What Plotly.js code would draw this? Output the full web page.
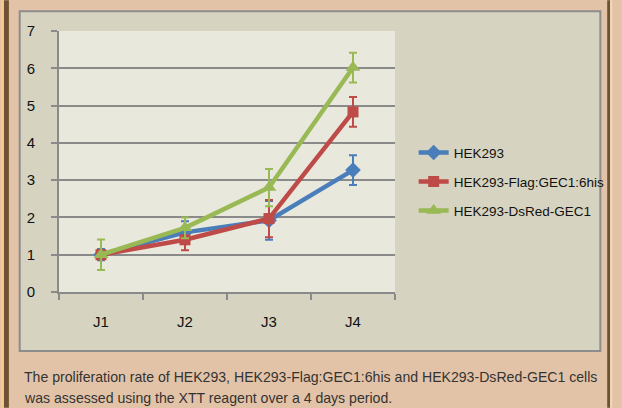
<!DOCTYPE html>
<html><head><meta charset="utf-8">
<script src="https://cdn.plot.ly/plotly-3.0.1.min.js"></script>
<style>html,body{margin:0;padding:0;background:#e3c3a7}#chart{width:622px;height:408px}</style>
</head><body><div id="chart"></div>
<script>
const days = ['J1', 'J2', 'J3', 'J4'];
const hek293 = [1.0, 1.6, 1.92, 3.27];
const hek293Err = [0.15, 0.3, 0.52, 0.4];
const flag = [1.0, 1.4, 1.97, 4.83];
const flagErr = [0.12, 0.28, 0.5, 0.4];
const dsred = [1.0, 1.72, 2.8, 6.02];
const dsredErr = [0.41, 0.28, 0.5, 0.4];
const names = ['HEK293', 'HEK293-Flag:GEC1:6his', 'HEK293-DsRed-GEC1'];
const captionLines = [
  'The proliferation rate of HEK293, HEK293-Flag:GEC1:6his and HEK293-DsRed-GEC1 cells',
  'was assessed using the XTT reagent over a 4 days period.'
];
const yTicks = [0, 1, 2, 3, 4, 5, 6, 7];

const colors = ['#4a7ebb', '#be4b48', '#98b954'];
const symbols = ['diamond', 'square', 'triangle-up'];
const sizes = [12, 11, 13];
const series = [hek293, flag, dsred];
const errs = [hek293Err, flagErr, dsredErr];

const L = 59, R = 401, T = 30.7, B = 292;
const fx = p => (p - L) / (R - L);
const fy = p => (B - p) / (B - T);
const narrow = 'Liberation Sans Narrow, Arial Narrow, Liberation Sans, sans-serif';

const traces = series.map((s, i) => ({
  type: 'scatter', mode: 'lines+markers', x: days, y: s, name: names[i],
  legendgroup: 'g' + i,
  line: {color: colors[i], width: 4.5},
  marker: {color: colors[i], symbol: symbols[i], size: sizes[i]},
  error_y: {type: 'data', array: errs[i], visible: true, color: colors[i], thickness: 2, width: 4}
}));

function rect(x0, y0, x1, y1, fill, line) {
  return {type: 'rect', xref: 'paper', yref: 'paper', layer: 'below',
    x0: fx(x0), x1: fx(x1), y0: fy(y0), y1: fy(y1), fillcolor: fill,
    line: line || {width: 0}};
}

const layout = {
  width: 622, height: 408,
  margin: {l: L, r: 622 - R, t: T, b: 408 - B, pad: 0},
  paper_bgcolor: '#e3c3a7', plot_bgcolor: 'rgba(0,0,0,0)',
  showlegend: true,
  legend: {x: fx(420), y: fy(137), xanchor: 'left', yanchor: 'top',
    bgcolor: 'rgba(0,0,0,0)', font: {family: narrow, size: 13.5, color: '#111'},
    traceorder: 'grouped', tracegroupgap: 8.5, itemwidth: 30},
  xaxis: {type: 'category', range: [-0.5, 3.5], tickson: 'boundaries',
    ticks: 'outside', ticklen: 6, tickwidth: 2, tickcolor: '#8a8a8a',
    showline: true, linecolor: '#8a8a8a', linewidth: 2, showgrid: false,
    ticklabelstandoff: 15, tickfont: {family: narrow, size: 15, color: '#111'}, fixedrange: true},
  yaxis: {range: [0, 7], tickvals: yTicks, ticks: 'outside', ticklen: 6, tickwidth: 2,
    tickcolor: '#8a8a8a', showline: true, linecolor: '#8a8a8a', linewidth: 2,
    showgrid: true, gridcolor: '#8a8a8a', gridwidth: 2, zeroline: false,
    ticklabelstandoff: 13, tickfont: {family: narrow, size: 15, color: '#111'}, fixedrange: true},
  shapes: [
    rect(0, 0, 3, 408, '#f7c78b'),
    rect(3, 0, 8, 408, '#6d5132'),
    rect(617, 0, 620, 408, '#6d5132'),
    rect(620, 0, 622, 408, '#f3d8b8'),
    rect(19, 11, 610, 351, '#d6d4c0', {color: '#8c8c8c', width: 2}),
    rect(59, 30.7, 401, 292, '#e8e8dd')
  ],
  annotations: captionLines.map((t, i) => ({
    text: t, xref: 'paper', yref: 'paper', x: fx(21), y: fy(377 + i * 21.5),
    xanchor: 'left', yanchor: 'middle', showarrow: false,
    font: {family: 'Liberation Sans, Arial, sans-serif', size: 14.1, color: '#333'}
  }))
};

Plotly.newPlot('chart', traces, layout, {displayModeBar: false, staticPlot: true});
</script></body></html>
